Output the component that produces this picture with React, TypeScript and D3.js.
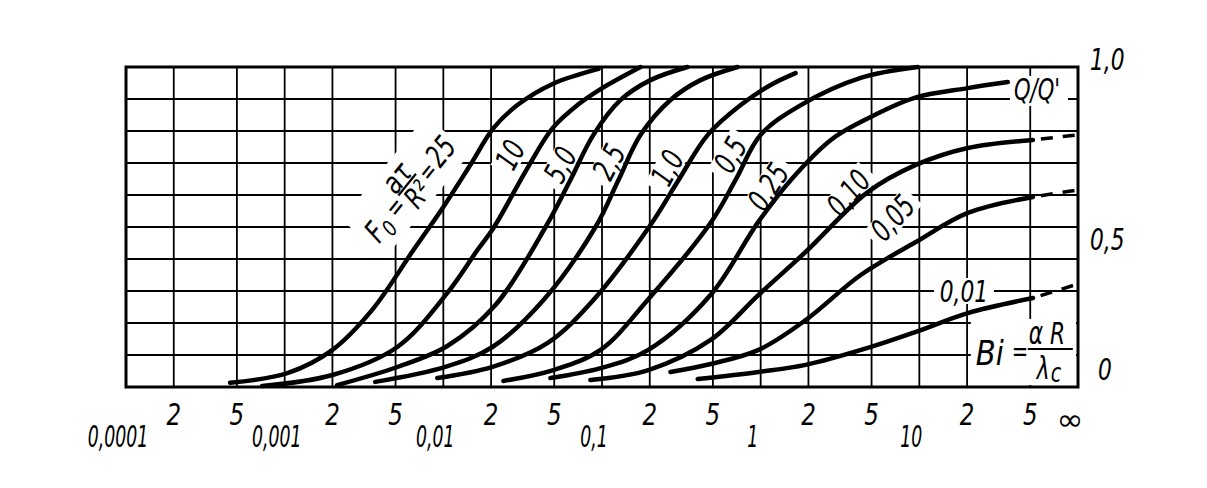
import React from "react";
import * as d3 from "d3";

// ---------- data (Bi on x, Q/Q' on y) ----------
const foNames = ["25", "10", "5,0", "2,5", "1,0", "0,5", "0,25", "0,10", "0,05", "0,01"];

const bi_Fo25 = [4.53e-4, 1.05e-3, 2.0e-3, 3.56e-3, 6.48e-3, 0.01, 0.0148, 0.0207, 0.0293, 0.0488, 0.0951];
const q_Fo25 = [0.013, 0.044, 0.116, 0.241, 0.428, 0.5625, 0.694, 0.809, 0.881, 0.947, 0.994];

const bi_Fo10 = [7.21e-4, 2.0e-3, 5.13e-3, 0.0106, 0.0164, 0.0207, 0.0339, 0.0488, 0.07, 0.098, 0.175];
const q_Fo10 = [0.003, 0.0375, 0.125, 0.294, 0.428, 0.497, 0.684, 0.809, 0.881, 0.931, 1.0];

const bi_Fo5 = [2.14e-3, 5.13e-3, 0.0106, 0.0213, 0.0441, 0.0632, 0.0883, 0.131, 0.202, 0.346];
const q_Fo5 = [0.006, 0.0625, 0.128, 0.256, 0.5, 0.647, 0.788, 0.897, 0.959, 1.0];

const bi_Fo2_5 = [3.72e-3, 0.0103, 0.0204, 0.0428, 0.091, 0.127, 0.175, 0.27, 0.418, 0.716];
const q_Fo2_5 = [0.016, 0.063, 0.125, 0.272, 0.5, 0.647, 0.788, 0.897, 0.959, 1.0];

const bi_Fo1 = [9.16e-3, 0.0204, 0.0455, 0.0883, 0.202, 0.304, 0.464, 0.748, 1.156, 1.66];
const q_Fo1 = [0.028, 0.063, 0.138, 0.272, 0.506, 0.647, 0.788, 0.881, 0.944, 0.981];

const bi_Fo0_5 = [0.0239, 0.0494, 0.098, 0.194, 0.484, 0.695, 1.0, 1.79, 4.27, 9.79];
const q_Fo0_5 = [0.019, 0.053, 0.116, 0.272, 0.513, 0.647, 0.788, 0.881, 0.966, 1.0];

const bi_Fo0_25 = [0.0473, 0.098, 0.196, 0.484, 0.957, 1.55, 2.77, 4.27, 9.23, 20.2, 36.1];
const q_Fo0_25 = [0.028, 0.059, 0.116, 0.288, 0.513, 0.647, 0.772, 0.828, 0.903, 0.934, 0.953];

const bi_Fo0_10 = [0.0845, 0.196, 0.484, 0.97, 1.92, 4.73, 9.5, 20.2, 52.0];
const q_Fo0_10 = [0.022, 0.053, 0.147, 0.288, 0.422, 0.609, 0.694, 0.747, 0.772];

const bi_Fo0_05 = [0.27, 0.484, 0.97, 1.92, 4.27, 9.5, 20.2, 52.0];
const q_Fo0_05 = [0.047, 0.072, 0.116, 0.209, 0.35, 0.453, 0.544, 0.594];

const bi_Fo0_01 = [0.401, 0.97, 1.92, 4.73, 9.5, 20.2, 52.0];
const q_Fo0_01 = [0.025, 0.047, 0.069, 0.122, 0.172, 0.231, 0.278];

// values toward Bi = infinity (dashed continuation)
const dashedNames = ["0,10", "0,05", "0,01"];
const qAtInfinity = [0.788, 0.616, 0.322];

// curve label anchors (Bi, Q) and rotation
const labelBi = [null, 0.0265, 0.0547, 0.111, 0.259, 0.647, 1.12, 3.59, 6.81, 19.1];
const labelQ = [null, 0.725, 0.694, 0.703, 0.684, 0.725, 0.625, 0.606, 0.528, 0.3];
const labelRot = [0, -62, -62, -62, -62, -60, -57, -50, -48, 0];

// axis ticks
const decadeVals = [1e-4, 1e-3, 1e-2, 1e-1, 1, 10];
const decadeText = ["0,0001", "0,001", "0,01", "0,1", "1", "10"];
const minorMult = [2, 5];
const infinityVal = 100;
const yTickVals = [1.0, 0.5, 0];
const yTickText = ["1,0", "0,5", "0"];

const FONT = "'Liberation Sans Narrow','DejaVu Sans Condensed','Liberation Sans',sans-serif";

function T({ x, y, rot = 0, sx = 0.78, fs = 30, anchor = "middle", base = "central", children }: any) {
  return (
    <g transform={`translate(${x},${y}) rotate(${rot}) scale(${sx},1)`}>
      <text
        fontFamily={FONT}
        fontStyle="italic"
        fontSize={fs}
        textAnchor={anchor}
        dominantBaseline={base}
        fill="#000"
      >
        {children}
      </text>
    </g>
  );
}

export default function App() {
  const W = 1207, H = 488;
  const x = d3.scaleLog().domain([1e-4, infinityVal]).range([126, 1078]);
  const y = d3.scaleLinear().domain([0, 1]).range([387, 67]);

  const curves = [
    { n: "25", bi: bi_Fo25, q: q_Fo25 },
    { n: "10", bi: bi_Fo10, q: q_Fo10 },
    { n: "5,0", bi: bi_Fo5, q: q_Fo5 },
    { n: "2,5", bi: bi_Fo2_5, q: q_Fo2_5 },
    { n: "1,0", bi: bi_Fo1, q: q_Fo1 },
    { n: "0,5", bi: bi_Fo0_5, q: q_Fo0_5 },
    { n: "0,25", bi: bi_Fo0_25, q: q_Fo0_25 },
    { n: "0,10", bi: bi_Fo0_10, q: q_Fo0_10 },
    { n: "0,05", bi: bi_Fo0_05, q: q_Fo0_05 },
    { n: "0,01", bi: bi_Fo0_01, q: q_Fo0_01 },
  ];

  const line = d3
    .line<[number, number]>()
    .x((d) => x(d[0]))
    .y((d) => y(d[1]))
    .curve(d3.curveCatmullRom.alpha(0.5));

  const gridX: number[] = [];
  decadeVals.forEach((d) => {
    gridX.push(d);
    minorMult.forEach((m) => gridX.push(d * m));
  });
  const gridY = d3.range(1, 10).map((i) => i / 10);

  // Fo label origin (centre of the "F")
  const foX = x(3.72e-3), foY = y(0.484);
  const foRot = -51;
  // Bi label origin
  const biX = x(22.7), biY = y(0.069);
  const qqX = x(39.5), qqY = y(0.897);

  return (
    <svg width={W} height={H} style={{ position: "absolute", left: 0, top: 0, background: "#fff" }}>
      <rect x={0} y={0} width={W} height={H} fill="#fff" />
      {/* grid */}
      <g stroke="#000" strokeWidth={1.8}>
        {gridX.filter((v) => v > 1e-4).map((v, i) => (
          <line key={"gx" + i} x1={x(v)} x2={x(v)} y1={y(1)} y2={y(0)} />
        ))}
        {gridY.map((v, i) => (
          <line key={"gy" + i} x1={x(1e-4)} x2={x(infinityVal)} y1={y(v)} y2={y(v)} />
        ))}
      </g>

      {/* white backgrounds under labels */}
      <g fill="#fff">
        <g transform={`translate(${foX},${foY}) rotate(${foRot})`}>
          <rect x={-12} y={-34} width={134} height={58} />
        </g>
        {curves.map((c, i) =>
          labelBi[i] == null ? null : (
            <g key={"bg" + i} transform={`translate(${x(labelBi[i] as number)},${y(labelQ[i] as number)}) rotate(${labelRot[i]})`}>
              <rect x={-(c.n.length * 6 + 6)} y={-13} width={c.n.length * 12 + 12} height={26} />
            </g>
          )
        )}
        <rect x={qqX - 4} y={qqY - 24} width={58} height={30} />
        <rect x={biX - 5} y={biY - 46} width={x(infinityVal) - biX + 3} height={y(0) - biY + 44} />
      </g>

      {/* curves */}
      <g fill="none" stroke="#000" strokeWidth={4.5} strokeLinecap="round" strokeLinejoin="round">
        {curves.map((c) => (
          <path key={c.n} d={line(c.bi.map((b, i) => [b, c.q[i]] as [number, number])) || ""} />
        ))}
      </g>
      {/* dashed continuations to infinity */}
      <g fill="none" stroke="#000" strokeWidth={3.5} strokeDasharray="0 8 12 10 12 40">
        {dashedNames.map((n, i) => {
          const c = curves.find((cc) => cc.n === n)!;
          const last = c.bi.length - 1;
          return (
            <line
              key={"d" + n}
              x1={x(c.bi[last])}
              y1={y(c.q[last])}
              x2={x(infinityVal)}
              y2={y(qAtInfinity[i])}
            />
          );
        })}
      </g>

      {/* border */}
      <rect
        x={x(1e-4)}
        y={y(1)}
        width={x(infinityVal) - x(1e-4)}
        height={y(0) - y(1)}
        fill="none"
        stroke="#000"
        strokeWidth={3}
      />

      {/* curve labels */}
      {curves.map((c, i) =>
        labelBi[i] == null ? null : (
          <T key={"l" + i} x={x(labelBi[i] as number)} y={y(labelQ[i] as number)} rot={labelRot[i]} fs={31}>
            {c.n}
          </T>
        )
      )}

      {/* Fo label */}
      <g transform={`translate(${foX},${foY}) rotate(${foRot})`}>
        <T x={0} y={0} fs={31} sx={0.85}>F</T>
        <T x={12} y={9} fs={22} sx={0.85}>0</T>
        <T x={32} y={0} fs={28}>=</T>
        <T x={56} y={-17} fs={30} sx={0.9}>aτ</T>
        <line x1={43} x2={71} y1={-5} y2={-5} stroke="#000" strokeWidth={2.2} />
        <T x={56} y={9} fs={29} sx={0.85}>R²</T>
        <T x={80} y={2} fs={26}>=</T>
        <T x={104} y={0} fs={31}>25</T>
      </g>

      {/* Q/Q' */}
      <T x={qqX} y={qqY} anchor="start" base="auto" fs={30}>Q/Q'</T>

      {/* Bi = alpha R / lambda_c */}
      <T x={biX} y={biY} anchor="start" base="auto" fs={34} sx={0.95}>Bi</T>
      <T x={biX + 36} y={biY - 4} anchor="start" base="auto" fs={28}>=</T>
      <T x={biX + 53} y={biY - 21} anchor="start" base="auto" fs={31}>α R</T>
      <line x1={biX + 52} x2={biX + 97} y1={biY - 16} y2={biY - 16} stroke="#000" strokeWidth={2} />
      <T x={biX + 61} y={biY + 14} anchor="start" base="auto" fs={31}>λ</T>
      <T x={biX + 75} y={biY + 17} anchor="start" base="auto" fs={27}>c</T>

      {/* right axis labels */}
      {yTickVals.map((v, i) => (
        <T key={"yt" + i} x={x(infinityVal) + 12 + (v === 0 ? 8 : 0)} y={y(v) + [3, 23, -7][i]} anchor="start" base="auto" fs={31}>
          {yTickText[i]}
        </T>
      ))}

      {/* bottom axis labels */}
      {decadeVals.map((v, i) => (
        <T key={"xd" + i} x={x(v) - 8} y={447} base="auto" fs={31} sx={0.62}>
          {decadeText[i]}
        </T>
      ))}
      {decadeVals.map((v) =>
        minorMult.map((m) => (
          <T key={"xm" + v + m} x={x(v * m)} y={425} base="auto" fs={30} sx={0.85}>
            {String(m)}
          </T>
        ))
      )}
      <T x={x(infinityVal) - 8} y={430} base="auto" sx={1.2}>∞</T>
    </svg>
  );
}
